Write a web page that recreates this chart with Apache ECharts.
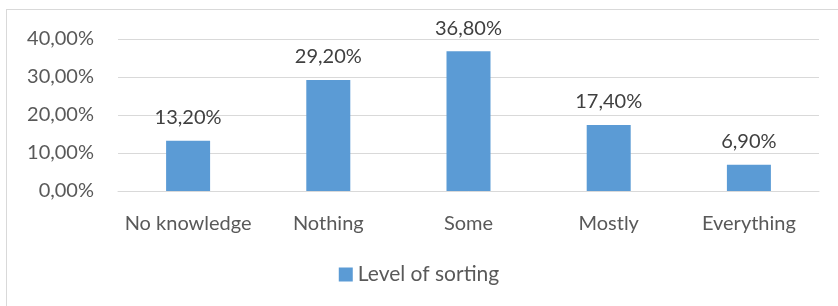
<!DOCTYPE html>
<html>
<head>
<meta charset="utf-8">
<script src="https://cdn.jsdelivr.net/npm/echarts@6/dist/echarts.min.js"></script>
<style>
  html, body { margin: 0; padding: 0; background: #fff; }
  #frame { position: absolute; left: 6px; top: 9px; width: 832px; height: 297px;
           border-top: 1px solid #d9d9d9; border-left: 1px solid #d9d9d9; }
  #chart { position: absolute; left: 0; top: 0; width: 838px; height: 306px; }
</style>
</head>
<body>
<div id="frame"></div>
<div id="chart"></div>
<script>
  const categories = ['No knowledge', 'Nothing', 'Some', 'Mostly', 'Everything']
  const sortingLevel = [13.2, 29.2, 36.8, 17.4, 6.9]
  const seriesName = 'Level of sorting'

  function pct(v) {
    return v.toFixed(2).replace('.', ',') + '%'
  }

  const font = 'Lato, "Open Sans", sans-serif'
  const myChart = echarts.init(document.getElementById('chart'))
  myChart.setOption({
    animation: false,
    textStyle: { fontFamily: font },
    grid: { left: 118, right: 19, top: 39, bottom: 115 },
    legend: {
      bottom: 16,
      left: 'center',
      itemWidth: 14,
      itemHeight: 14,
      itemGap: 6,
      icon: 'rect',
      textStyle: { fontSize: 21, color: '#595959', fontFamily: font },
      data: [seriesName]
    },
    xAxis: {
      type: 'category',
      data: categories,
      axisLine: { lineStyle: { color: '#d9d9d9', width: 1 } },
      axisTick: { show: false },
      axisLabel: { interval: 0, fontSize: 20, color: '#595959', margin: 23, fontFamily: font }
    },
    yAxis: {
      type: 'value',
      min: 0,
      max: 40,
      interval: 10,
      axisLine: { show: false },
      axisTick: { show: false },
      splitLine: { lineStyle: { color: '#d9d9d9', width: 1 } },
      axisLabel: {
        fontSize: 20, color: '#595959', margin: 24, fontFamily: font,
        formatter: function (v) { return pct(v) }
      }
    },
    color: ['#5b9bd5'],
    series: [
      {
        name: seriesName,
        type: 'bar',
        barWidth: 44,
        data: sortingLevel,
        label: {
          show: true,
          position: 'top',
          distance: 13,
          fontSize: 20,
          color: '#404040',
          fontFamily: font,
          formatter: function (p) { return pct(p.value) }
        }
      }
    ]
  })
</script>
</body>
</html>
